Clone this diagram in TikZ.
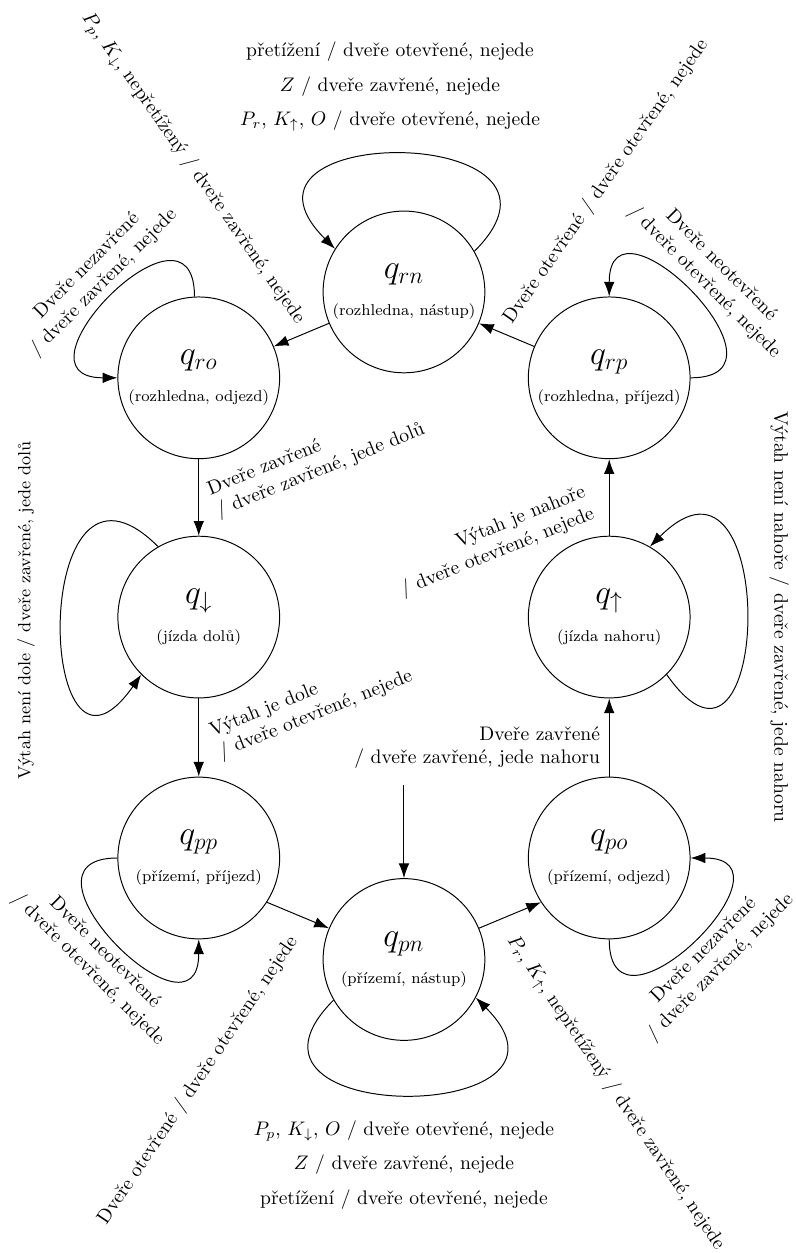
\documentclass[tikz,border=0pt]{standalone}
\usepackage{fontspec}
\usepackage{amsmath,amssymb}
\usetikzlibrary{arrows.meta}

\begin{document}
\begin{tikzpicture}[line width=0.5pt,
    >={Latex[length=7.5pt,width=5.4pt]},
    stav/.style={draw, circle, minimum size=2.9cm, inner sep=0pt, align=center},
    popis/.style={align=center, inner sep=0pt}]
  \useasboundingbox (-7.244,-5.263) rectangle (7.029,17.205);
  % stavy: prizemi dole, rozhledna nahore, jizda mezi nimi
  \foreach \jm/\x/\y/\ind/\txt in {
      qpn/0/0/pn/{přízemí, nástup},
      qpp/-3.68/1.82/pp/{přízemí, příjezd},
      qpo/3.68/1.82/po/{přízemí, odjezd},
      qdown/-3.68/6.14/\downarrow/{jízda dolů},
      qup/3.68/6.14/\uparrow/{jízda nahoru},
      qro/-3.68/10.43/ro/{rozhledna, odjezd},
      qrp/3.68/10.43/rp/{rozhledna, příjezd},
      qrn/0/11.97/rn/{rozhledna, nástup}} {
    \node[stav] (\jm) at (\x,\y) {{\LARGE $q_{\ind}$}\\[7pt]{\footnotesize (\txt)}};
  }
  % prechody mezi stavy
  \draw[->] (qrp) -- (qrn);
  \draw[->] (qrn) -- (qro);
  \draw[->] (qro) -- (qdown);
  \draw[->] (qdown) -- (qpp);
  \draw[->] (qpp.-33) -- (qpn);
  \draw[->] (qpn) -- (qpo.213);
  \draw[->] (qpo) -- (qup);
  \draw[->] (qup) -- (qrp);
  % pocatecni stav
  \coordinate (start) at ([yshift=3.13cm]qpn.center);
  \draw[->] (start) -- (qpn);
  % smycky
  \draw[->] (qrn.30) to[out=45, in=135, distance=3.25cm] (qrn.148);
  \draw[->] (qro.93) to[out=90, in=180, distance=2.06cm] (qro.180);
  \draw[->] (qrp.0) to[out=0, in=90, distance=2.06cm] (qrp.90);
  \draw[->] (qdown.120) to[out=135, in=235, distance=3.3cm] (qdown.225);
  \draw[->] (qup.-45) to[out=-55, in=45, distance=3.3cm] (qup.60);
  \draw[->] (qpp.180) to[out=180, in=270, distance=2.06cm] (qpp.270);
  \draw[->] (qpo.270) to[out=270, in=0, distance=2.06cm] (qpo.0);
  \draw[->] (qpn.210) to[out=225, in=-45, distance=3.25cm] (qpn.-28);
  % popisky smycek
  \node[popis] (lrn) at ([shift={(-0.25,3.68)}]qrn.center) {přetížení / dveře otevřené, nejede\\[5.5pt] $Z$ / dveře zavřené, nejede\\[5.5pt] $P_r$, $K_\uparrow$, $O$ / dveře otevřené, nejede};
  \node[popis] (lpn) at ([shift={(0,-3.685)}]qpn.center) {$P_p$, $K_\downarrow$, $O$ / dveře otevřené, nejede\\[5.5pt] $Z$ / dveře zavřené, nejede\\[5.5pt] přetížení / dveře otevřené, nejede};
  \node[popis, rotate=45] (lro) at ([shift={(-1.85,1.85)}]qro.center) {Dveře nezavřené\\/ dveře zavřené, nejede};
  \node[popis, rotate=-45] (lrp) at ([shift={(1.85,1.86)}]qrp.center) {Dveře neotevřené\\/ dveře otevřené, nejede};
  \node[popis, rotate=-45] (lpp) at ([shift={(-1.84,-1.85)}]qpp.center) {Dveře neotevřené\\/ dveře otevřené, nejede};
  \node[popis, rotate=45] (lpo) at ([shift={(1.85,-1.82)}]qpo.center) {Dveře nezavřené\\/ dveře zavřené, nejede};
  \node[popis, rotate=90, font=\small] (ldown) at ([shift={(-3.10,0.125)}]qdown.center) {Výtah není dole / dveře zavřené, jede dolů};
  \node[popis, rotate=-90] (lup) at ([shift={(3.05,0)}]qup.center) {Výtah není nahoře / dveře zavřené, jede nahoru};
  % popisky prechodu
  \node[popis, rotate=-55] (lrnro) at ([shift={(-3.783,2.214)}]qrn.center) {$P_p$, $K_\downarrow$, nepřetížený / dveře zavřené, nejede};
  \node[popis, rotate=55] (lrprn) at ([shift={(3.622,1.981)}]qrn.center) {Dveře otevřené / dveře otevřené, nejede};
  \node[popis, rotate=56] (lpppn) at ([shift={(-3.694,-2.170)}]qpn.center) {Dveře otevřené / dveře otevřené, nejede};
  \node[popis, rotate=-56] (lpnpo) at ([shift={(3.792,-2.394)}]qpn.center) {$P_r$, $K_\uparrow$, nepřetížený / dveře zavřené, nejede};
  \node[popis, rotate=22, align=left] (lrodown) at ([shift={(2.110,-1.476)}]qro.center) {Dveře zavřené\\/ dveře zavřené, jede dolů};
  \node[popis, rotate=22, align=left] (ldownpp) at ([shift={(2.021,-1.565)}]qdown.center) {Výtah je dole\\/ dveře otevřené, nejede};
  \node[popis, rotate=22, align=right] (luprp) at ([shift={(-2.080,1.348)}]qup.center) {Výtah je nahoře\\/ dveře otevřené, nejede};
  \node[popis, align=right] (lpoup) at ([shift={(-2.367,1.981)}]qpo.center) {Dveře zavřené\\/ dveře zavřené, jede nahoru};
\end{tikzpicture}
\end{document}
